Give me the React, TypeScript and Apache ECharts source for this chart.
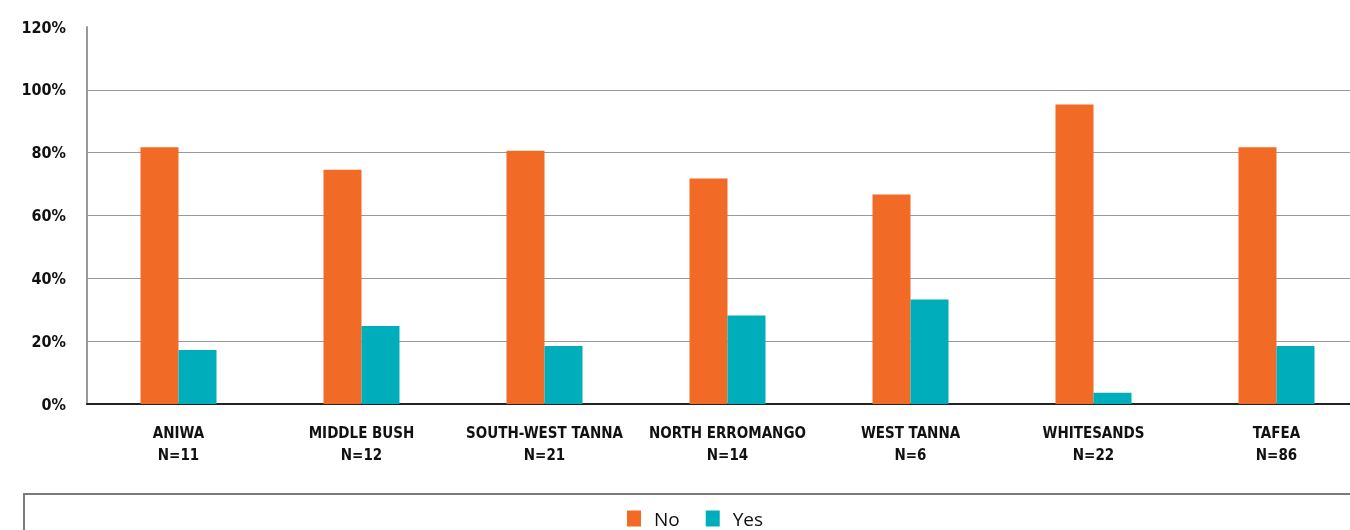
import React, { useEffect, useRef } from "react";
import * as echarts from "echarts";

const categories = ["ANIWA", "MIDDLE BUSH", "SOUTH-WEST TANNA", "NORTH ERROMANGO", "WEST TANNA", "WHITESANDS", "TAFEA"];
const sampleSizes = ["N=11", "N=12", "N=21", "N=14", "N=6", "N=22", "N=86"];
const noValues = [81.7, 74.6, 80.6, 71.8, 66.7, 95.3, 81.7];
const yesValues = [17.2, 24.8, 18.5, 28.2, 33.3, 3.6, 18.5];
const seriesNames = ["No", "Yes"];
const yTicks = [0, 20, 40, 60, 80, 100, 120];

const COND = '"Liberation Sans Narrow", "DejaVu Sans Condensed", "Arial Narrow", sans-serif';

export default function App() {
  const ref = useRef<HTMLDivElement>(null);
  useEffect(() => {
    if (!ref.current) return;
    const chart = echarts.init(ref.current, undefined, { renderer: "svg" });
    const labels = categories.map((c, i) => c + "\n" + sampleSizes[i]);
    chart.setOption({
      animation: false,
      grid: { left: 87, top: 27, right: 0, bottom: 126, containLabel: false },
      legend: {
        data: seriesNames,
        left: 627,
        top: 509,
        padding: 0,
        itemWidth: 14,
        itemHeight: 16,
        itemGap: 26,
        icon: "rect",
        textStyle: { fontFamily: '"Open Sans", sans-serif', fontSize: 19, color: "#111", padding: [0, 0, 0, 8] },
      },
      xAxis: {
        type: "category",
        data: labels,
        axisLine: { show: true, lineStyle: { color: "#222", width: 2 } },
        axisTick: { show: false },
        axisLabel: {
          interval: 0,
          margin: 18,
          fontFamily: COND,
          fontWeight: "bold",
          fontSize: 15,
          lineHeight: 22,
          color: "#111",
        },
      },
      yAxis: {
        type: "value",
        min: yTicks[0],
        max: yTicks[yTicks.length - 1],
        interval: 20,
        axisLine: { show: true, lineStyle: { color: "#999", width: 2 } },
        axisTick: { show: false },
        splitLine: { show: true, showMaxLine: false, lineStyle: { color: "#999", width: 1.2 } },
        axisLabel: {
          formatter: "{value}%",
          margin: 21,
          fontFamily: COND,
          fontWeight: "bold",
          fontSize: 16,
          color: "#111",
        },
      },
      series: [
        { name: seriesNames[0], type: "bar", data: noValues, barWidth: 38, barGap: "0%", itemStyle: { color: "#F26B26" } },
        { name: seriesNames[1], type: "bar", data: yesValues, barWidth: 38, barGap: "0%", itemStyle: { color: "#00ADBA" } },
      ],
      graphic: [
        {
          type: "rect",
          shape: { x: 24, y: 494, width: 1400, height: 100 },
          style: { fill: "none", stroke: "#7a7a7a", lineWidth: 2 },
          z: -1,
        },
      ],
    });
    return () => chart.dispose();
  }, []);
  return (
    <div style={{ position: "fixed", left: 0, top: 0, width: 1350, height: 530, overflow: "hidden" }}>
      <div ref={ref} style={{ position: "absolute", left: 0, top: 0, width: 1368, height: 530 }} />
    </div>
  );
}
